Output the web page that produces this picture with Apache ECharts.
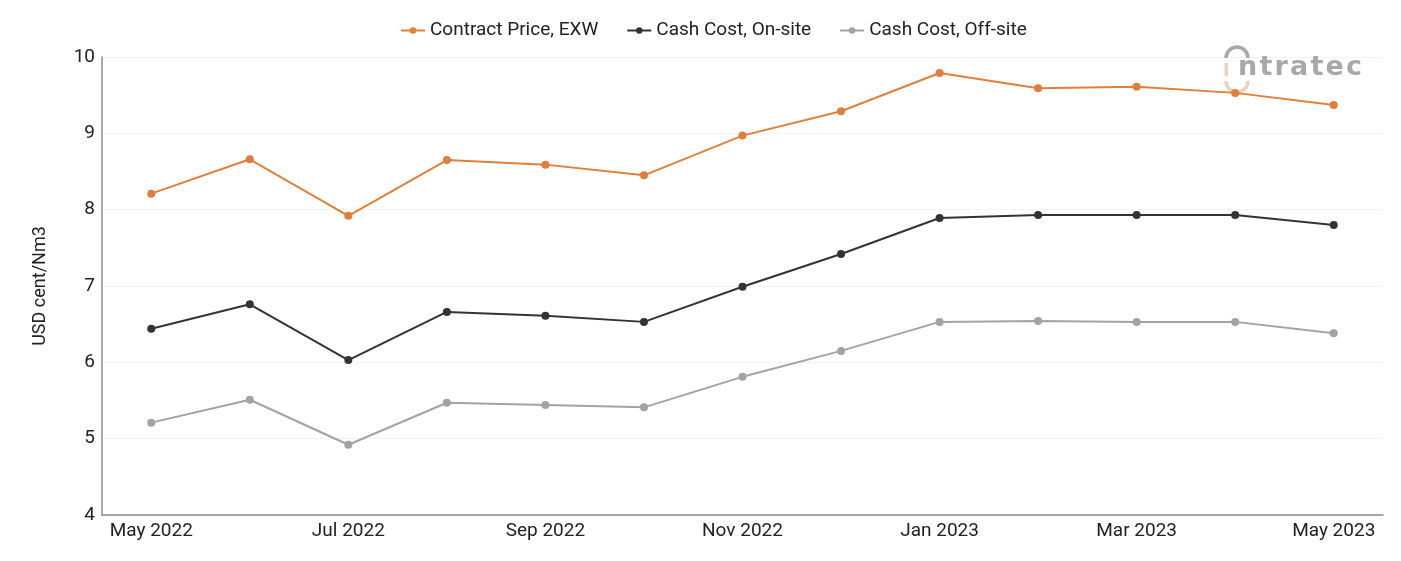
<!DOCTYPE html>
<html><head><meta charset="utf-8">
<script src="https://cdn.jsdelivr.net/npm/echarts@6/dist/echarts.min.js"></script>
<style>html,body{margin:0;padding:0;background:#fff}#c{width:1401px;height:561px}</style>
</head><body><div id="c"></div>
<script>
const categories = ['May 2022','Jun 2022','Jul 2022','Aug 2022','Sep 2022','Oct 2022','Nov 2022','Dec 2022','Jan 2023','Feb 2023','Mar 2023','Apr 2023','May 2023'];
const contractPrice = [8.21,8.66,7.92,8.65,8.59,8.45,8.97,9.29,9.79,9.59,9.61,9.53,9.37];
const cashOnSite = [6.44,6.76,6.03,6.66,6.61,6.53,6.99,7.42,7.89,7.93,7.93,7.93,7.80];
const cashOffSite = [5.21,5.51,4.92,5.47,5.44,5.41,5.81,6.15,6.53,6.54,6.53,6.53,6.38];
const seriesNames = ['Contract Price, EXW','Cash Cost, On-site','Cash Cost, Off-site'];
const colors = ['#E07F3C','#333333','#A3A3A3'];
const logoWord = 'ntratec';

const chart = echarts.init(document.getElementById('c'));
const mk = (name, data, color) => ({
  name, type:'line', data, color,
  symbol:'circle', symbolSize:8,
  lineStyle:{width:2,color}, itemStyle:{color},
  z: 3
});

// logo letters, spaced to span the reference wordmark width
const mctx = document.createElement('canvas').getContext('2d');
mctx.font = 'bold 27px "DejaVu Sans"';
const widths = [...logoWord].map(ch => mctx.measureText(ch).width);
const total = widths.reduce((a, b) => a + b, 0);
const gap = Math.max(0, (124 - total) / (logoWord.length - 1));
const logoLetters = [];
let lx = 1238;
[...logoWord].forEach((ch, i) => {
  logoLetters.push({type:'text', z:1, style:{x:lx, y:81, text:ch, verticalAlign:'bottom',
    fontSize:27, fontWeight:'bold', fontFamily:'DejaVu Sans', fill:'#a8a8a8'}});
  lx += widths[i] + gap;
});

chart.setOption({
  animation:false,
  textStyle:{fontFamily:'Roboto'},
  legend:{
    top:16, left:395, itemGap:28, itemWidth:24, itemHeight:8,
    textStyle:{fontSize:19,color:'#222',fontFamily:'Roboto'},
    data: seriesNames
  },
  grid:{left:102,right:18,top:57,bottom:46},
  xAxis:{
    type:'category', data:categories, boundaryGap:true,
    axisLine:{lineStyle:{color:'#8c8c8c',width:1.5}},
    axisTick:{show:false},
    axisLabel:{interval:1,fontSize:19,color:'#222',margin:7}
  },
  yAxis:{
    type:'value', min:4, max:10, interval:1,
    name:'USD cent/Nm3', nameLocation:'middle', nameGap:53,
    nameTextStyle:{fontSize:18,color:'#222'},
    axisLine:{show:true,lineStyle:{color:'#8c8c8c',width:1.5}},
    axisTick:{show:false},
    axisLabel:{fontSize:19,color:'#222',margin:7},
    splitLine:{lineStyle:{color:'#f3f3f3'}}
  },
  graphic:[
    {type:'arc', z:1, shape:{cx:1237, cy:58, r:11, startAngle:Math.PI, endAngle:2*Math.PI},
     style:{stroke:'#a8a8a8', lineWidth:3.5, fill:null}},
    {type:'arc', z:1, shape:{cx:1237, cy:81, r:11, startAngle:0, endAngle:Math.PI},
     style:{stroke:'#ecd2bd', lineWidth:3.5, fill:null}},
    {type:'rect', z:1, shape:{x:1224.5, y:63, width:3.5, height:13}, style:{fill:'#ecd2bd'}},
    ...logoLetters
  ],
  series:[
    mk(seriesNames[0], contractPrice, colors[0]),
    mk(seriesNames[1], cashOnSite, colors[1]),
    mk(seriesNames[2], cashOffSite, colors[2])
  ]
});
</script></body></html>
